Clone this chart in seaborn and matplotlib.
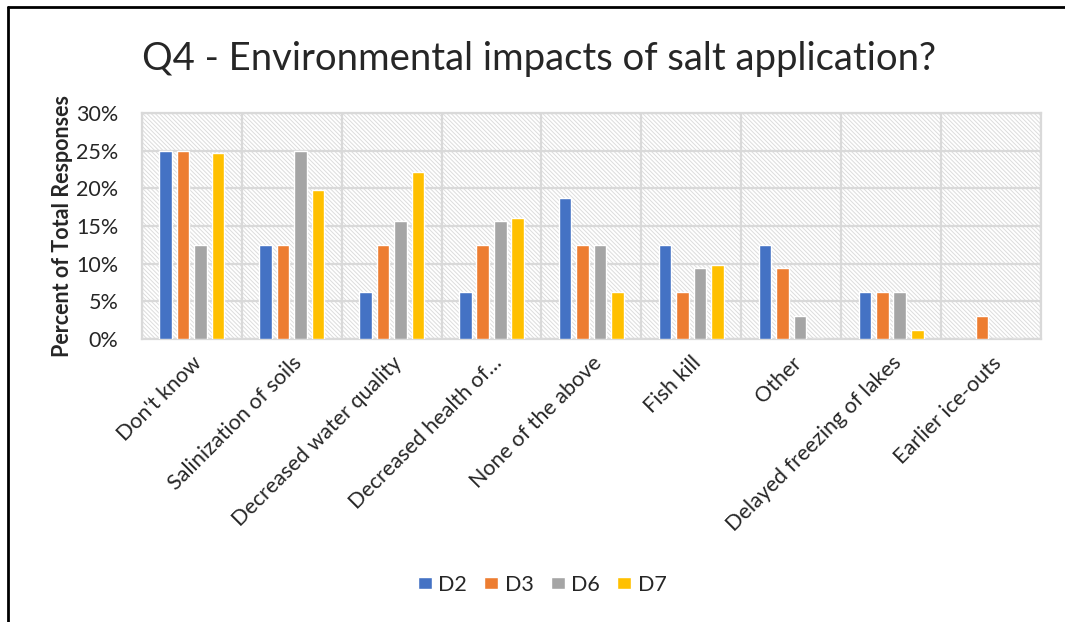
import pandas as pd
import seaborn as sns
import matplotlib.pyplot as plt
from matplotlib.patches import Rectangle
from matplotlib.lines import Line2D

# categories on the x axis
categories = ["Don't know", "Salinization of soils", "Decreased water quality",
              "Decreased health of\u2026", "None of the above", "Fish kill", "Other",
              "Delayed freezing of lakes", "Earlier ice-outs"]
districts = ['D2', 'D3', 'D6', 'D7']

# percent of total responses per district
d2 = [25.0, 12.5, 6.25, 6.25, 18.75, 12.5, 12.5, 6.25, 0.0]
d3 = [25.0, 12.5, 12.5, 12.5, 12.5, 6.25, 9.4, 6.25, 3.1]
d6 = [12.5, 25.0, 15.6, 15.6, 12.5, 9.4, 3.1, 6.25, 0.0]
d7 = [24.7, 19.8, 22.2, 16.1, 6.2, 9.8, 0.0, 1.2, 0.0]
colors = ['#4472C4', '#ED7D31', '#A5A5A5', '#FFC000']

rows = []
for name, vals in zip(districts, [d2, d3, d6, d7]):
    for cat, v in zip(categories, vals):
        rows.append({'category': cat, 'district': name, 'pct': v})
df = pd.DataFrame(rows)

sns.set_style('white')
plt.rcParams['font.family'] = ['Lato', 'DejaVu Sans']
plt.rcParams['hatch.color'] = '#dcdcdc'
plt.rcParams['hatch.linewidth'] = 0.7

fig = plt.figure(figsize=(10.65, 6.22), dpi=100)
ax = fig.add_axes([0.1333, 0.455, 0.844, 0.3633])

# hatched plot area like the Excel chart
ax.add_patch(Rectangle((0, 0), 1, 1, transform=ax.transAxes, facecolor='white',
                       hatch='\\' * 8, edgecolor='#dcdcdc', linewidth=0, zorder=0))

sns.barplot(data=df, x='category', y='pct', hue='district', order=categories,
            hue_order=districts, palette=colors, width=0.7, gap=0.28,
            saturation=1, ax=ax, zorder=3, legend=True)

ax.set_ylim(0, 30)
ax.set_xlim(-0.5, len(categories) - 0.5)
ax.set_yticks(range(0, 31, 5))
ax.set_yticklabels([f'{t}%' for t in range(0, 31, 5)], fontsize=15.5)
ax.set_xticks(range(len(categories)))
ax.set_xticklabels(categories, rotation=45, ha='right', rotation_mode='anchor', fontsize=15.5)
ax.set_xticks([i - 0.5 for i in range(len(categories) + 1)], minor=True)
ax.tick_params(axis='both', which='both', length=0)
ax.tick_params(axis='x', which='major', pad=10)
ax.tick_params(axis='y', which='major', pad=17)
ax.grid(axis='y', which='major', color='#d9d9d9', linewidth=1.6, zorder=1)
ax.grid(axis='x', which='minor', color='#d9d9d9', linewidth=1.6, zorder=1)
ax.set_axisbelow(True)
for s in ax.spines.values():
    s.set_color('#d9d9d9')
    s.set_linewidth(1.6)
ax.set_xlabel('')
ax.set_ylabel('Percent of Total Responses', fontsize=15.5, fontweight='bold', labelpad=2)

ax.legend(loc='center', bbox_to_anchor=(0.509, 0.06), bbox_transform=fig.transFigure,
          ncol=4, frameon=False, fontsize=15.5, handlelength=0.65, handleheight=0.45,
          columnspacing=0.8, handletextpad=0.3)

fig.text(0.506, 0.905, 'Q4 - Environmental impacts of salt application?',
         ha='center', va='center', fontsize=27.5)

# outer frame (only top and left edges visible in the screenshot)
fig.add_artist(Line2D([8 / 1065, 1.0], [1 - 7 / 622, 1 - 7 / 622], transform=fig.transFigure,
                      color='black', linewidth=2))
fig.add_artist(Line2D([8 / 1065, 8 / 1065], [0.0, 1 - 7 / 622], transform=fig.transFigure,
                      color='black', linewidth=2))

fig.savefig('out.png', dpi=100)
